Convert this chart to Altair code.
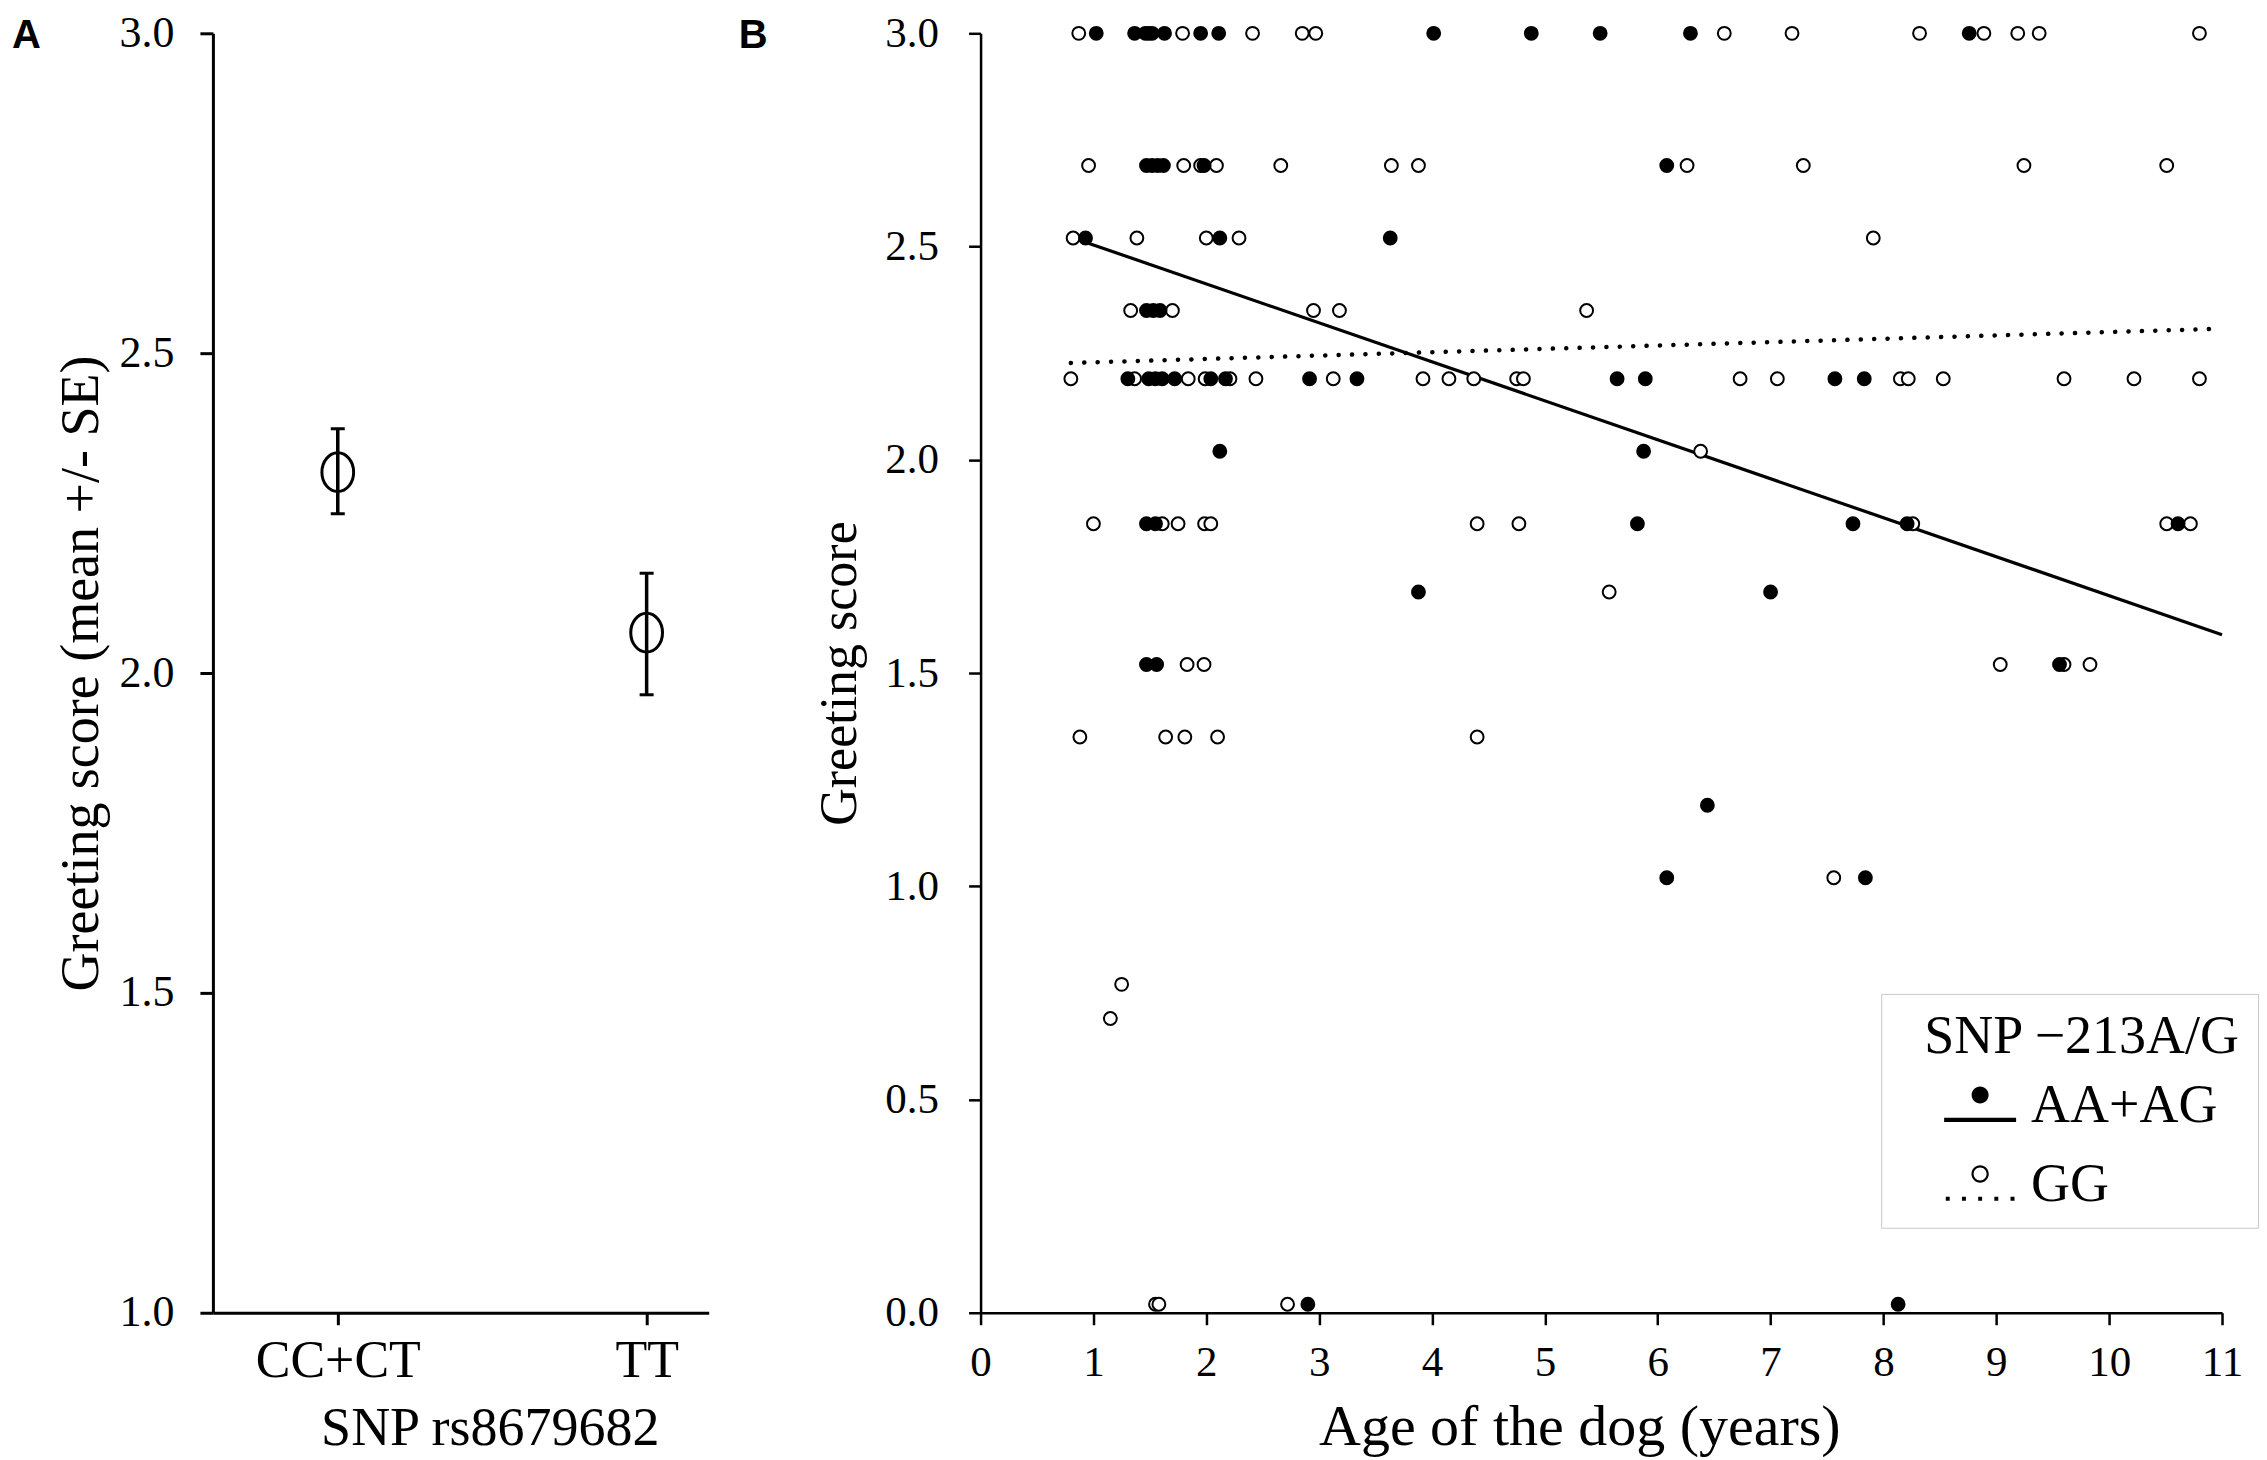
import altair as alt
import pandas as pd

SERIF = "Liberation Serif"
SANS = "Liberation Sans Narrow, Liberation Sans, Arial"

# ---------------- Panel A data ----------------
snp_a = ["CC+CT", "TT"]
mean_a = [2.314, 2.063]
lo_a = [2.249, 1.966]
hi_a = [2.382, 2.156]
y_ticks_a = [1.0, 1.5, 2.0, 2.5, 3.0]

# ---------------- Panel B data ----------------
groups_b = ["AA+AG", "GG"]
# score level -> ages (years)
aa_points = {
    3.0: [1.025, 1.365, 1.46, 1.52, 1.63, 1.95, 2.11, 4.015, 4.88, 5.49, 6.29, 8.76],
    2.69: [1.47, 1.52, 1.57, 1.62, 1.98, 6.08],
    2.52: [0.93, 2.12, 3.63],
    2.35: [1.47, 1.53, 1.59],
    2.19: [1.305, 1.49, 1.55, 1.61, 1.72, 2.04, 2.17, 2.915, 3.335, 5.64, 5.89, 7.57, 7.83],
    2.02: [2.12, 5.875],
    1.85: [1.47, 1.55, 5.82, 7.73, 8.21, 10.61],
    1.69: [3.88, 7.00],
    1.52: [1.47, 1.56, 9.56],
    1.19: [6.44],
    1.02: [6.08, 7.84],
    0.02: [2.90, 8.13],
}
gg_points = {
    3.0: [0.87, 1.49, 1.79, 2.41, 2.85, 2.97, 6.59, 7.19, 8.32, 8.89, 9.19, 9.38, 10.80],
    2.69: [0.957, 1.80, 1.95, 2.09, 2.66, 3.64, 3.88, 6.26, 7.29, 9.245, 10.51],
    2.52: [0.82, 1.385, 2.00, 2.29, 7.91],
    2.35: [1.33, 1.70, 2.95, 3.18, 5.37],
    2.19: [0.80, 1.365, 1.84, 1.99, 2.21, 2.44, 3.125, 3.92, 4.15, 4.37, 4.75, 4.81,
           6.73, 7.06, 8.15, 8.22, 8.53, 9.60, 10.22, 10.80],
    2.02: [6.38],
    1.85: [1.00, 1.61, 1.75, 1.985, 2.04, 4.40, 4.77, 8.26, 10.51, 10.72],
    1.69: [5.57],
    1.52: [1.83, 1.98, 9.035, 9.60, 9.83],
    1.35: [0.88, 1.64, 1.81, 2.10, 4.40],
    1.02: [7.56],
    0.77: [1.25],
    0.69: [1.15],
    0.02: [1.55, 1.58, 2.72],
}
fit_group = ["AA+AG", "AA+AG", "GG", "GG"]
fit_age = [0.91, 11.0, 0.80, 10.95]
fit_score = [2.512, 1.590, 2.227, 2.307]
x_ticks_b = list(range(0, 12))
y_ticks_b = [0.0, 0.5, 1.0, 1.5, 2.0, 2.5, 3.0]

# ---------------- frames ----------------
df_a = pd.DataFrame({"snp": snp_a, "mean": mean_a, "lo": lo_a, "hi": hi_a})
rows = []
for grp, pts in (("GG", gg_points), ("AA+AG", aa_points)):
    for score, ages in pts.items():
        for a in ages:
            rows.append({"group": grp, "age": a, "score": score})
df_b = pd.DataFrame(rows)
df_fit = pd.DataFrame({"group": fit_group, "age": fit_age, "score": fit_score})

# ---------------- symbols ----------------
ELLIPSE = "M0,-1A0.82,1,0,1,1,0,1A0.82,1,0,1,1,0,-1Z"
LEG_AA = ("M-0.236,-0.3A0.236,0.236,0,1,1,0.236,-0.3A0.236,0.236,0,1,1,-0.236,-0.3Z"
          "M-1,0.33H1V0.45H-1Z")
dots = "".join(f"M{c - 0.055:.3f},0.335h0.11v0.11h-0.11Z" for c in (-0.9, -0.45, 0.0, 0.45, 0.9))
LEG_GG = ("M-0.24,-0.3A0.24,0.24,0,1,1,0.24,-0.3A0.24,0.24,0,1,1,-0.24,-0.3Z"
          "M-0.18,-0.3A0.18,0.18,0,1,0,0.18,-0.3A0.18,0.18,0,1,0,-0.18,-0.3Z" + dots)

PLOT_H = 1280

# ---------------- Panel A ----------------
xa = alt.X("snp:N", sort=snp_a,
           scale=alt.Scale(type="point", domain=snp_a, padding=0.3026, align=0.668),
           axis=alt.Axis(title="SNP rs8679682", labelAngle=0, labelFontSize=52, titleFontSize=54,
                         tickSize=12, tickWidth=3, domainWidth=3, labelPadding=11,
                         titlePadding=15, titleX=277))
axis_ya = alt.Axis(title="Greeting score (mean +/- SE)", values=y_ticks_a, format=".1f",
                   labelFontSize=44, titleFontSize=54, tickSize=13, tickWidth=3, domainWidth=3,
                   labelPadding=26, titlePadding=10, labelFlush=False)
scale_ya = alt.Scale(domain=[1, 3], nice=False, zero=False)


def ya(field):
    return alt.Y(field, scale=scale_ya, axis=axis_ya)


base_a = alt.Chart(df_a)
rule_a = base_a.mark_rule(color="black", strokeWidth=3.5).encode(x=xa, y=ya("lo:Q"), y2="hi:Q")
cap_lo = base_a.mark_tick(color="black", size=14, thickness=3, opacity=1).encode(x=xa, y=ya("lo:Q"))
cap_hi = base_a.mark_tick(color="black", size=14, thickness=3, opacity=1).encode(x=xa, y=ya("hi:Q"))
pt_a = base_a.mark_point(shape=ELLIPSE, size=1500, filled=False, stroke="black",
                         strokeWidth=3, opacity=1).encode(x=xa, y=ya("mean:Q"))
lab_a = alt.Chart(pd.DataFrame({"t": ["A"]})).mark_text(
    font=SANS, fontSize=40, fontWeight="bold", align="left", baseline="top", color="black"
).encode(x=alt.value(-201), y=alt.value(-17), text="t:N")

chart_a = alt.layer(rule_a, cap_lo, cap_hi, pt_a, lab_a).properties(width=496, height=PLOT_H)

# ---------------- Panel B ----------------
xb = alt.X("age:Q", scale=alt.Scale(domain=[0, 11], nice=False, zero=False),
           axis=alt.Axis(title="Age of the dog (years)", values=x_ticks_b, format="d",
                         labelFontSize=43, titleFontSize=58, tickSize=12, tickWidth=2.5,
                         domainWidth=2.5, labelPadding=17, titlePadding=14, titleX=599,
                         labelFlush=False))
yb = alt.Y("score:Q", scale=alt.Scale(domain=[0, 3], nice=False, zero=False),
           axis=alt.Axis(title="Greeting score", values=y_ticks_b, format=".1f",
                         labelFontSize=43, titleFontSize=52, tickSize=12, tickWidth=2.5,
                         domainWidth=2.5, labelPadding=30, titlePadding=18, labelFlush=False))

solid = alt.Chart(df_fit).transform_filter("datum.group == 'AA+AG'").mark_line(
    color="black", strokeWidth=3.2).encode(x=xb, y=yb)
dotted = alt.Chart(df_fit).transform_filter("datum.group == 'GG'").mark_line(
    color="black", strokeWidth=4.5, strokeDash=[0.1, 13.3], strokeCap="round").encode(x=xb, y=yb)

pts_gg = alt.Chart(df_b).transform_filter("datum.group == 'GG'").mark_point(
    shape="circle", filled=True, fill="white", stroke="black", strokeWidth=2, size=165, opacity=1
).encode(x=xb, y=yb)
pts_aa = alt.Chart(df_b).transform_filter("datum.group == 'AA+AG'").mark_point(
    shape="circle", filled=True, fill="black", stroke="black", strokeWidth=2, size=165, opacity=1
).encode(x=xb, y=yb)

legend_layer = alt.Chart(df_fit).transform_filter("datum.age > 100").mark_point(
    filled=True, color="black", opacity=1
).encode(
    x=xb, y=yb,
    shape=alt.Shape("group:N", scale=alt.Scale(domain=groups_b, range=[LEG_AA, LEG_GG]),
                    legend=alt.Legend(
                        title="\u200b\u2002SNP \u2212213A/G", orient="none", legendX=901, legendY=961,
                        padding=16, strokeColor="#c8c8c8", fillColor="white",
                        symbolSize=5184, symbolStrokeWidth=0, symbolFillColor="black",
                        symbolOffset=47, labelOffset=15, rowPadding=16, titlePadding=6,
                        labelFont=SERIF, labelFontSize=54, titleFont=SERIF, titleFontSize=54,
                        titleFontWeight="normal", labelColor="black", titleColor="black",
                        labelLimit=600, titleLimit=600)),
)

lab_b = alt.Chart(pd.DataFrame({"t": ["B"]})).mark_text(
    font=SANS, fontSize=40, fontWeight="bold", align="left", baseline="top", color="black"
).encode(x=alt.value(-242), y=alt.value(-17), text="t:N")

chart_b = alt.layer(solid, dotted, pts_gg, pts_aa, legend_layer, lab_b).properties(
    width=1242, height=PLOT_H)

chart = alt.hconcat(chart_a, chart_b, spacing=30).resolve_scale(
    shape="independent"
).resolve_legend(shape="independent").properties(
    padding={"left": 4, "top": 3, "right": 0, "bottom": 0}
).configure_view(stroke=None).configure_axis(
    grid=False, domainColor="black", tickColor="black", labelColor="black", titleColor="black",
    labelFont=SERIF, titleFont=SERIF, titleFontWeight="normal"
)

chart.save("out.html", embed_options={"renderer": "svg", "actions": False})
